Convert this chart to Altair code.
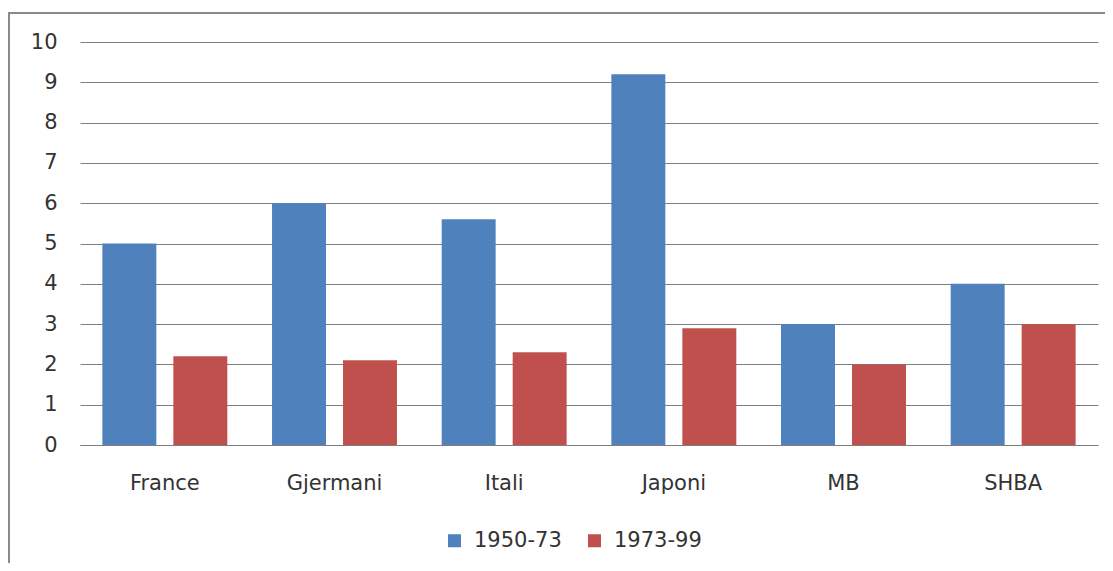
import altair as alt
import pandas as pd

categories = ["France", "Gjermani", "Itali", "Japoni", "MB", "SHBA"]
series = ["1950-73", "1973-99"]
values_1950_73 = [5.0, 6.0, 5.6, 9.2, 3.0, 4.0]
values_1973_99 = [2.2, 2.1, 2.3, 2.9, 2.0, 3.0]
y_ticks = [0, 1, 2, 3, 4, 5, 6, 7, 8, 9, 10]
colors = ["#4F81BD", "#C0504D"]

rows = []
for c, a, b in zip(categories, values_1950_73, values_1973_99):
    rows.append({"country": c, "period": series[0], "value": a})
    rows.append({"country": c, "period": series[1], "value": b})
df = pd.DataFrame(rows)

gray = "#7f7f7f"
text_color = "#333333"
font = "DejaVu Sans"

bars = alt.Chart(df).mark_bar().encode(
    x=alt.X(
        "country:N",
        sort=categories,
        scale=alt.Scale(paddingInner=0, paddingOuter=0),
        axis=alt.Axis(
            title=None, labelAngle=0, ticks=False, domain=True, domainColor=gray,
            grid=False, labelPadding=27, labelFontSize=21, labelFont=font,
            labelColor=text_color,
        ),
    ),
    xOffset=alt.XOffset(
        "period:N", sort=series,
        scale=alt.Scale(paddingInner=0.24, paddingOuter=0.315),
    ),
    y=alt.Y(
        "value:Q",
        scale=alt.Scale(domain=[0, 10], nice=False),
        axis=alt.Axis(
            values=y_ticks, title=None, domain=False, ticks=False,
            gridColor=gray, gridWidth=1.2, labelPadding=23, labelFontSize=21,
            labelFont=font, labelColor=text_color,
        ),
    ),
    color=alt.Color(
        "period:N",
        sort=series,
        scale=alt.Scale(domain=series, range=colors),
        legend=alt.Legend(
            title=None, orient="none", legendX=364, legendY=488,
            direction="horizontal", symbolType="square", symbolSize=169,
            symbolStrokeWidth=0, labelFontSize=21, labelFont=font,
            labelColor=text_color, labelOffset=9, columnPadding=22,
        ),
    ),
)

frame = alt.Chart(pd.DataFrame({"k": [0]})).mark_rect(
    fillOpacity=0, stroke="#8a8a8a", strokeWidth=2
).encode(
    x=alt.value(-71), x2=alt.value(1300),
    y=alt.value(-29), y2=alt.value(800),
)

chart = alt.layer(frame, bars).properties(
    width=1018,
    height=403,
    autosize=alt.AutoSizeParams(type="none"),
    padding={"left": 72, "top": 34, "right": 7, "bottom": 118},
).configure_view(stroke=None)

chart.save("out.html", embed_options={"renderer": "svg", "actions": False})
